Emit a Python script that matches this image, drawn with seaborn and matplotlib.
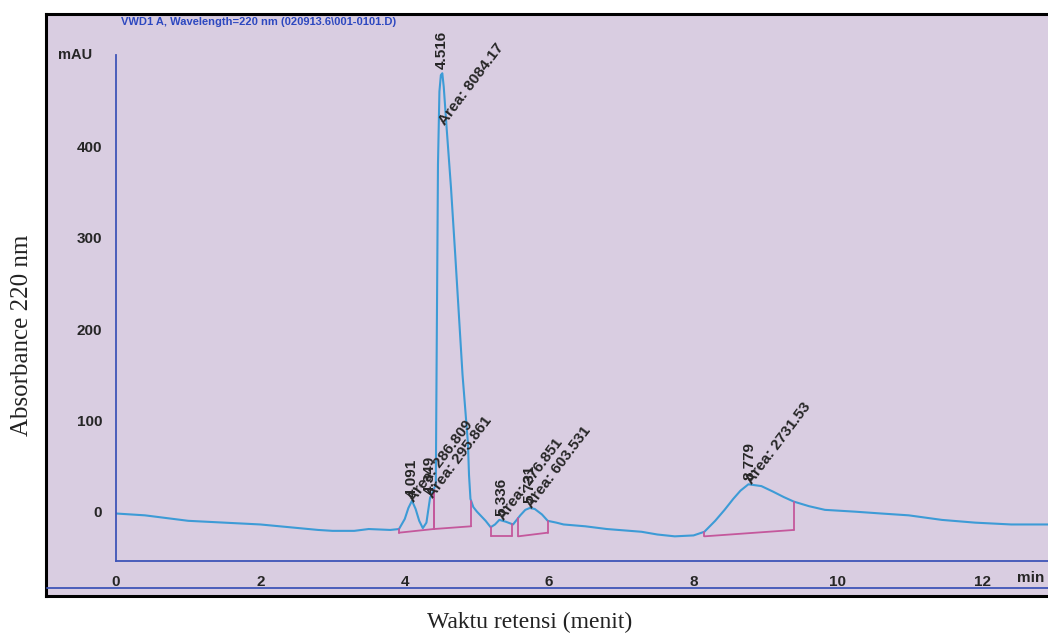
import numpy as np
import matplotlib
matplotlib.use("Agg")
import matplotlib.pyplot as plt
import seaborn as sns
from matplotlib.lines import Line2D
from matplotlib.ticker import MultipleLocator

# chromatogram trace (time in min, signal in mAU)
time_min = [0.0, 0.4, 0.8, 1.0, 1.5, 2.0, 2.4, 2.8, 3.0, 3.3, 3.5, 3.8, 3.92,
            4.00, 4.05, 4.10, 4.15, 4.20, 4.25, 4.30, 4.35, 4.40, 4.43, 4.44,
            4.46, 4.48, 4.50, 4.52, 4.54, 4.58, 4.64, 4.70, 4.75, 4.80, 4.85,
            4.875, 4.89, 4.91, 4.95, 5.00, 5.06, 5.12, 5.19, 5.25, 5.31, 5.40,
            5.50, 5.60, 5.67, 5.73, 5.80, 5.90, 5.98, 6.10, 6.20, 6.50, 6.80,
            7.28, 7.50, 7.74, 8.00, 8.15, 8.30, 8.43, 8.55, 8.65, 8.76, 8.85,
            8.94, 9.10, 9.25, 9.39, 9.60, 9.82, 10.24, 10.60, 10.98, 11.44,
            11.90, 12.40, 12.93]
signal_mau = [-2, -4, -8, -10, -12, -14, -17, -20, -21, -21, -19, -20, -19,
              -8, 4, 12, 3, -10, -18, -12, 15, 24, 30, 150,
              380, 460, 478, 480, 465, 420, 355, 280, 215, 150, 100,
              75, 40, 14, 5, 0, -5, -10, -17, -14, -9, -11,
              -14, -4, 2, 4, 3, -3, -10, -12, -14, -16, -19,
              -22, -25, -27, -26, -22, -10, 2, 14, 23, 30, 29,
              28, 22, 16, 11, 6, 2, 0, -2, -4, -9,
              -12, -14, -14]

# labelled peaks
peak_rt = [4.091, 4.349, 4.516, 5.336, 5.731, 8.779]
peak_area = ["286.809", "295.861", "8084.17", "276.851", "603.531", "2731.53"]

# integration baselines
base_start = [3.92, 4.40, 5.19, 5.57, 8.15]
base_end = [4.40, 4.92, 5.48, 5.98, 9.39]
base_start_mau = [-23, -19, -27, -27, -27]
base_end_mau = [-19, -16, -27, -23, -20]

x_ticks = [0, 2, 4, 6, 8, 10, 12]
y_ticks = [0, 100, 200, 300, 400]

title = "VWD1 A, Wavelength=220 nm (020913.6\\001-0101.D)"

sns.set_style("white")
plt.rcParams["font.family"] = ["Liberation Sans", "DejaVu Sans"]

W, H = 1048, 642
fig = plt.figure(figsize=(W / 100, H / 100), dpi=100)

paper = "#d9cde1"
axis_blue = "#3f55b8"
trace_blue = "#3d9bd6"
pink = "#c4589c"

# printout panel
panel = fig.add_axes([46 / W, 1 - 596 / H, 1.0, (596 - 14) / H])
panel.set_facecolor(paper)
panel.set_xticks([])
panel.set_yticks([])
for s in panel.spines.values():
    s.set_color("black")
    s.set_linewidth(2.2)
fig.add_artist(Line2D([47 / W, 1], [1 - 588 / H] * 2, color=axis_blue, lw=1.3))

ax = fig.add_axes([116 / W, 1 - 561 / H, 1 - 116 / W, (561 - 55) / H])
ax.patch.set_alpha(0)

sns.lineplot(x=time_min, y=signal_mau, ax=ax, color=trace_blue, linewidth=1.5)

# integration baselines with drop lines
for xs, xe, ys, ye in zip(base_start, base_end, base_start_mau, base_end_mau):
    ax.plot([xs, xe], [ys, ye], color=pink, lw=1.3)
    for xx, yy in [(xs, ys), (xe, ye)]:
        ax.plot([xx, xx], [yy, np.interp(xx, time_min, signal_mau)], color=pink, lw=1.3)

# peak labels
for rt, area in zip(peak_rt, peak_area):
    top = np.interp(rt, time_min, signal_mau)
    ax.text(rt, top + 5, f"{rt:.3f}", rotation=90, ha="center", va="bottom",
            fontsize=11, fontweight="bold", clip_on=False)
    ax.text(rt + 0.07, min(top - 3, 420), "Area: " + area, rotation=53,
            rotation_mode="anchor", ha="left", va="bottom",
            fontsize=11, fontweight="bold", clip_on=False)

ax.set_xlim(0, 12.91)
ax.set_ylim(-54, 500)
ax.set_xticks(x_ticks)
ax.set_yticks(y_ticks)
ax.xaxis.set_minor_locator(MultipleLocator(0.5))
ax.set_yticks(np.arange(-40, 501, 20), minor=True)
ax.set_xticklabels([str(t) for t in x_ticks], fontweight="bold", fontsize=11)
ax.set_yticklabels([str(t) for t in y_ticks], fontweight="bold", fontsize=11)
ax.tick_params(which="both", direction="out", color=axis_blue, width=1.1)
ax.tick_params(which="major", length=5, pad=5)
ax.tick_params(which="minor", length=4)
for side in ["top", "right"]:
    ax.spines[side].set_visible(False)
for side in ["left", "bottom"]:
    ax.spines[side].set_color(axis_blue)
    ax.spines[side].set_linewidth(1.3)
ax.set_xlabel("")
ax.set_ylabel("")

fig.text(121 / W, 1 - 22 / H, title, color="#2d48c0", fontsize=8.0,
         fontweight="bold", va="center", ha="left")
fig.text(58 / W, 1 - 55 / H, "mAU", fontsize=10.5, fontweight="bold", va="center")
fig.text(1017 / W, 1 - 578 / H, "min", fontsize=11, fontweight="bold", va="center")

fig.text(22 / W, 1 - 335 / H, "Absorbance 220 nm", rotation=90, ha="center",
         va="center", fontsize=18, family="Liberation Serif", color="#222222")
fig.text(530 / W, 1 - 622 / H, "Waktu retensi (menit)", ha="center",
         va="center", fontsize=17, family="Liberation Serif", color="#222222")

fig.savefig("out.png", dpi=100, facecolor="white")
